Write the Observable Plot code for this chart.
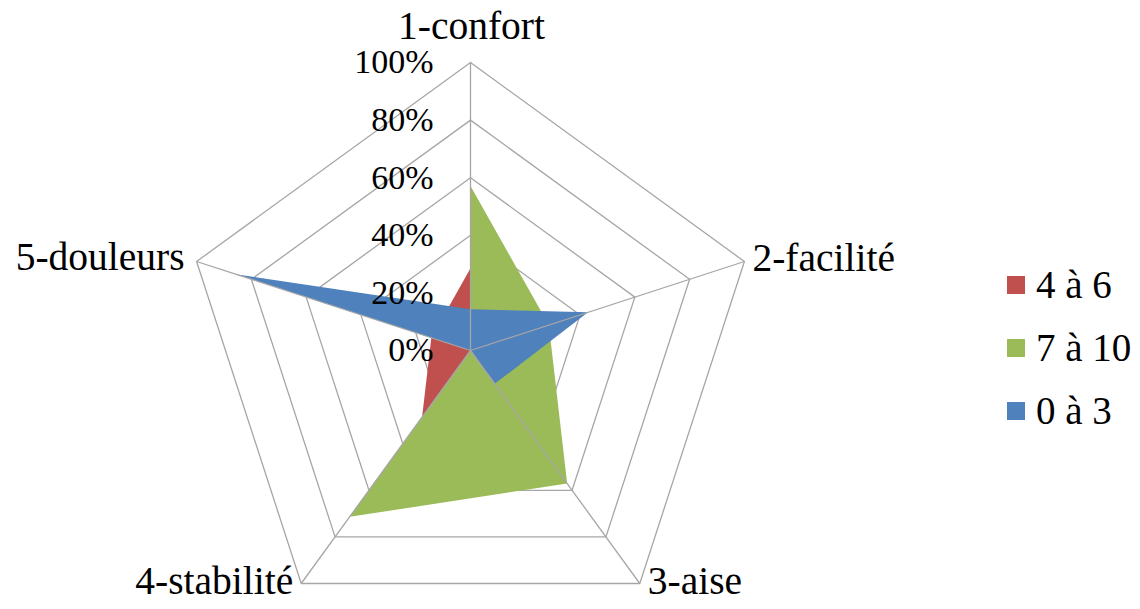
<!DOCTYPE html>
<html>
<head>
<meta charset="utf-8">
<script src="https://cdn.jsdelivr.net/npm/d3@7"></script>
<script src="https://cdn.jsdelivr.net/npm/@observablehq/plot@0.6"></script>
<style>
  html, body { margin: 0; padding: 0; background: #fff; }
  #wrap { position: relative; width: 1140px; height: 609px; overflow: hidden; }
  #legend { position: absolute; left: 1007px; top: 253px; font-size: 39px; color: #000; }
  #legend .row { display: flex; align-items: center; height: 63px; }
  #legend .sw { width: 18px; height: 18px; margin-right: 11px; flex: none; }
</style>
</head>
<body>
<div id="wrap"><div id="chart"></div><div id="legend"></div></div>
<script>
// ---- data ----
const categories = ["1-confort", "2-facilité", "3-aise", "4-stabilité", "5-douleurs"];
const seriesNames = ["4 à 6", "7 à 10", "0 à 3"];
const seriesColors = ["#C0504D", "#9BBB59", "#4F81BD"];
const values_4a6  = [0.286, 0.286, 0.286, 0.286, 0.143];
const values_7a10 = [0.571, 0.286, 0.571, 0.714, 0.0];
const values_0a3  = [0.143, 0.429, 0.143, 0.0, 0.857];
const tickValues = [0, 0.2, 0.4, 0.6, 0.8, 1.0];
const tickLabels = ["0%", "20%", "40%", "60%", "80%", "100%"];

// ---- geometry helpers ----
const n = categories.length;
const ang = i => (2 * Math.PI * i) / n;
const px = (i, r) => r * Math.sin(ang(i));
const py = (i, r) => r * Math.cos(ang(i));

const W = 1140, H = 609, CX = 470, CY = 350, R = 288;

const seriesData = [values_4a6, values_7a10, values_0a3].map((vals, s) =>
  vals.map((v, i) => ({series: seriesNames[s], cat: categories[i], x: px(i, v), y: py(i, v)}))
);

const rings = tickValues.filter(t => t > 0).flatMap(t =>
  d3.range(n + 1).map(i => ({ring: t, x: px(i % n, t), y: py(i % n, t)}))
);
const spokes = categories.map((c, i) => ({x1: 0, y1: 0, x2: px(i, 1), y2: py(i, 1)}));
const ticks = tickValues.map((t, k) => ({x: 0, y: t, label: tickLabels[k]}));
const catPts = categories.map((c, i) => ({label: c, x: px(i, 1), y: py(i, 1)}));

const font = "'Liberation Serif', 'Times New Roman', serif";
const labelOpts = [
  {textAnchor: "middle", dx: 1, dy: -36},
  {textAnchor: "start", dx: 8, dy: -3},
  {textAnchor: "start", dx: 8, dy: -2},
  {textAnchor: "end", dx: -8, dy: -2},
  {textAnchor: "end", dx: -12, dy: -4}
];

const chart = Plot.plot({
  width: W,
  height: H,
  margin: 0,
  x: {domain: [-CX / R, (W - CX) / R], axis: null},
  y: {domain: [-(H - CY) / R, CY / R], axis: null},
  marks: [
    Plot.line(rings, {x: "x", y: "y", z: "ring", stroke: "#A6A6A6", strokeWidth: 1.3}),
    ...seriesData.map((d, s) => Plot.line(d, {x: "x", y: "y", fill: seriesColors[s], stroke: "none", curve: "linear-closed"})),
    Plot.link(spokes, {x1: "x1", y1: "y1", x2: "x2", y2: "y2", stroke: "#A6A6A6", strokeWidth: 1.3}),
    Plot.text(ticks, {x: "x", y: "y", text: "label", textAnchor: "end", dx: -37, fontSize: 34, fill: "#000"}),
    ...catPts.map((d, i) => Plot.text([d], {x: "x", y: "y", text: "label", fontSize: 39.5, fill: "#000", ...labelOpts[i]}))
  ]
});
document.getElementById("chart").appendChild(chart);
chart.setAttribute("font-family", font);
[chart, ...chart.querySelectorAll("g, text")].forEach(el => el.style.setProperty("font-family", font));

const legend = document.getElementById("legend");
legend.style.fontFamily = font;
seriesNames.forEach((name, s) => {
  const row = document.createElement("div");
  row.className = "row";
  const sw = document.createElement("span");
  sw.className = "sw";
  sw.style.background = seriesColors[s];
  const lab = document.createElement("span");
  lab.textContent = name;
  row.appendChild(sw);
  row.appendChild(lab);
  legend.appendChild(row);
});
</script>
</body>
</html>
